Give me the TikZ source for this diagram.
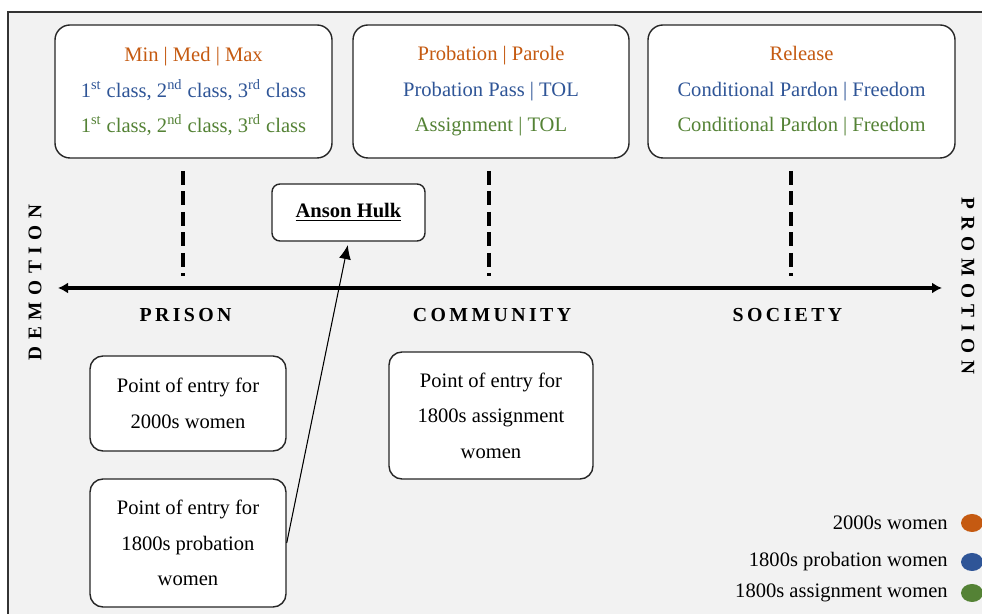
\documentclass[tikz,border=0pt]{standalone}
\usepackage{fontspec}
\usepackage{xcolor}
\setmainfont{Liberation Serif}
\newfontfamily\zonefont[LetterSpace=17]{Liberation Serif}
\newfontfamily\sidefont[LetterSpace=34]{Liberation Serif}
\usetikzlibrary{arrows.meta}
\tikzset{>={Latex[width=2.4mm,length=2.8mm]}}
\definecolor{bggray}{HTML}{F2F2F2}
\definecolor{colnow}{HTML}{C55A11}
\definecolor{colprob}{HTML}{2F5597}
\definecolor{colassign}{HTML}{548235}
\tikzset{
  stagebox/.style={draw=black!85,line width=0.8pt,fill=white,rounded corners=0.3cm,align=center,
    inner sep=0pt,font=\fontsize{11.7}{20.2}\selectfont},
  entrybox/.style={stagebox,rounded corners=0.26cm},
  zonelabel/.style={font=\zonefont\bfseries\fontsize{11.3}{13}\selectfont},
  sidelabel/.style={font=\sidefont\bfseries\fontsize{11}{13}\selectfont},
  keytext/.style={anchor=east,font=\fontsize{11.7}{14}\selectfont,inner sep=0pt},
  divider/.style={line width=1.9pt,dash pattern=on 0.28cm off 0.13cm}
}
\begin{document}
\begin{tikzpicture}

  \def\ord#1{\textsuperscript{#1}}

  \useasboundingbox (0,0) rectangle (19.64,12.28);
  \fill[bggray] (0.16,0) rectangle (19.64,12.04);
  \draw[black!80,line width=1pt] (0.16,0) -- (0.16,12.04) -- (19.64,12.04);

  \coordinate (L) at (1.16,6.52);
  \coordinate (R) at (18.84,6.52);
  \coordinate (p1) at (3.66,8.86);
  \coordinate (p2) at (3.66,6.76);
  \coordinate (c1) at (9.78,8.86);
  \coordinate (c2) at (9.78,6.76);
  \coordinate (s1) at (15.82,8.86);
  \coordinate (s2) at (15.82,6.76);

  \node[stagebox,minimum width=5.54cm,minimum height=2.66cm] (prisonbox) at (3.87,10.45)
    {\textcolor{colnow}{Min | Med | Max}\\
     \textcolor{colprob}{1\ord{st} class, 2\ord{nd} class, 3\ord{rd} class}\\
     \textcolor{colassign}{1\ord{st} class, 2\ord{nd} class, 3\ord{rd} class}};
  \node[stagebox,minimum width=5.52cm,minimum height=2.66cm] (communitybox) at (9.82,10.45)
    {\textcolor{colnow}{Probation | Parole}\\
     \textcolor{colprob}{Probation Pass | TOL}\\
     \textcolor{colassign}{Assignment | TOL}};
  \node[stagebox,minimum width=6.14cm,minimum height=2.66cm] (societybox) at (16.03,10.45)
    {\textcolor{colnow}{Release}\\
     \textcolor{colprob}{Conditional Pardon | Freedom}\\
     \textcolor{colassign}{Conditional Pardon | Freedom}};

  \draw[divider] (p1) -- (p2);
  \draw[divider] (c1) -- (c2);
  \draw[divider] (s1) -- (s2);

  \draw[line width=2.3pt,{Latex[width=2.2mm,length=2mm]}-{Latex[width=2.2mm,length=2mm]}] (L) -- (R);

  \node[zonelabel] (prison) at (3.71,5.98) {PRISON};
  \node[zonelabel] (community) at (9.84,5.98) {COMMUNITY};
  \node[zonelabel] (society) at (15.75,5.98) {SOCIETY};
  \node[sidelabel,rotate=90] (demotion) at (0.70,6.63) {DEMOTION};
  \node[sidelabel,rotate=-90] (promotion) at (19.36,6.56) {PROMOTION};

  \node[stagebox,rounded corners=0.16cm,minimum width=3.06cm,minimum height=1.14cm] (hulk) at (6.97,8.03)
    {\textbf{\underline{Anson Hulk}}};

  \node[entrybox,minimum width=3.92cm,minimum height=1.9cm] (entrynow) at (3.76,4.21)
    {Point of entry for\\2000s women};
  \node[entrybox,minimum width=3.92cm,minimum height=2.56cm] (entryprob) at (3.76,1.42)
    {Point of entry for\\1800s probation\\women};
  \node[entrybox,minimum width=4.08cm,minimum height=2.54cm] (entryassign) at (9.82,3.97)
    {Point of entry for\\1800s assignment\\women};

  \draw[line width=0.6pt,->,shorten >=2pt] (entryprob.east) -- (hulk.south);

  \node[keytext] (keynow) at (18.96,1.82) {2000s women};
  \node[keytext] (keyprob) at (18.96,1.04) {1800s probation women};
  \node[keytext] (keyassign) at (18.96,0.42) {1800s assignment women};
  \fill[colnow] (19.44,1.82) ellipse (0.22 and 0.18);
  \fill[colprob] (19.44,1.04) ellipse (0.22 and 0.18);
  \fill[colassign] (19.44,0.42) ellipse (0.22 and 0.18);

\end{tikzpicture}
\end{document}
